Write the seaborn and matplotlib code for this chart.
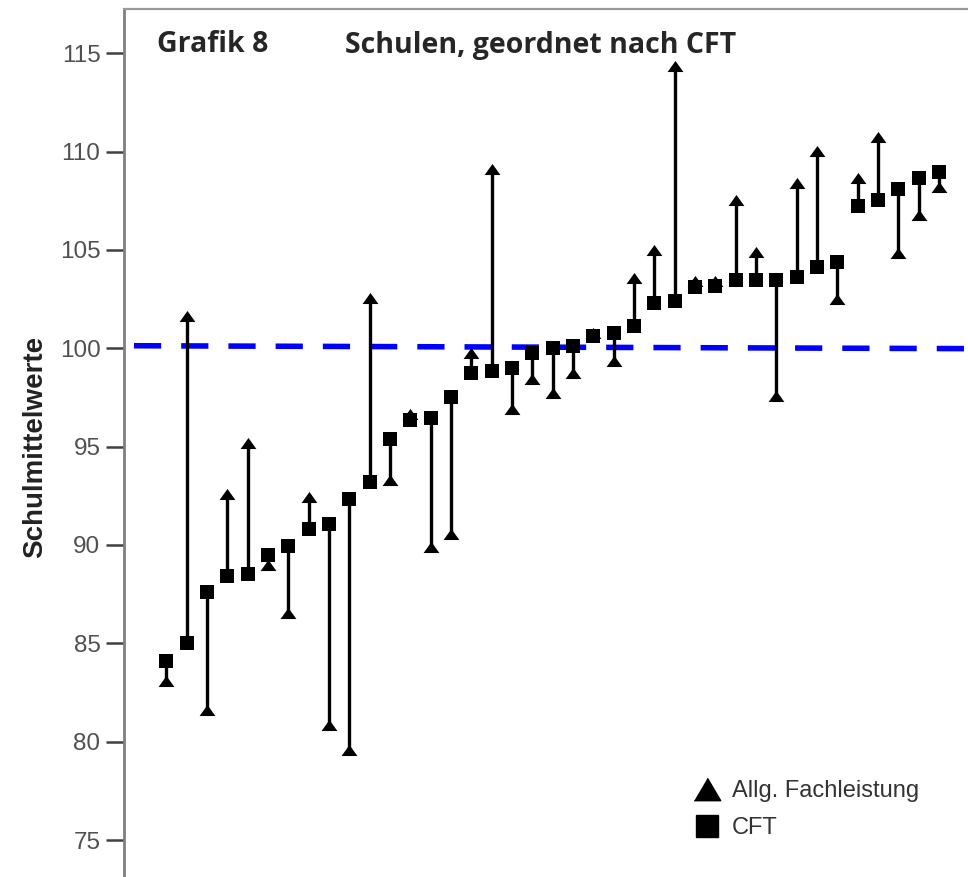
import numpy as np
import pandas as pd
import seaborn as sns
import matplotlib.pyplot as plt
from matplotlib.lines import Line2D

# Schulmittelwerte, Schulen geordnet nach CFT
cft = [84.1, 85.0, 87.6, 88.4, 88.5, 89.5, 89.95, 90.8, 91.05, 92.35,
       93.2, 95.4, 96.35, 96.45, 97.5, 98.75, 98.85, 99.0, 99.75, 100.0,
       100.1, 100.65, 100.8, 101.15, 102.3, 102.4, 103.1, 103.15, 103.45, 103.45,
       103.45, 103.6, 104.15, 104.4, 107.25, 107.55, 108.1, 108.65, 108.95]
allg = [83.1, 101.65, 81.6, 92.6, 95.2, 89.0, 86.55, 92.45, 80.85, 79.6,
        102.55, 93.3, 96.65, 89.9, 90.55, 99.75, 109.1, 96.9, 98.45, 97.75,
        98.75, 100.8, 99.35, 103.55, 105.0, 114.35, 103.4, 103.4, 107.55, 104.9,
        97.55, 108.4, 110.05, 102.5, 108.65, 110.75, 104.85, 106.8, 108.2]
ref_x = [-1.6, 40.0]
ref_y = [100.13, 99.98]
yticks = [75, 80, 85, 90, 95, 100, 105, 110, 115]

df = pd.DataFrame({"schule": np.arange(len(cft)), "cft": cft, "allg": allg})

sns.set_style("white")
plt.rcParams["font.family"] = ["Liberation Sans", "DejaVu Sans"]

fig = plt.figure(figsize=(9.68, 8.77), dpi=100)
ax = fig.add_axes([124 / 968, 0.0, 851 / 968, 868 / 877])

# reference line
ax.plot(ref_x, ref_y, color="#0000FF", lw=4.0, dashes=(4.9, 3.6), zorder=1)

# stems between the two values
ax.vlines(df["schule"], df["cft"], df["allg"], color="black", lw=2.4, zorder=2)

flat_tri = [(-1, -0.7), (1, -0.7), (0, 0.7)]
sns.scatterplot(data=df, x="schule", y="allg", marker=flat_tri, s=130,
                color="black", edgecolor="black", linewidth=0, ax=ax, zorder=3)
sns.scatterplot(data=df, x="schule", y="cft", marker="s", s=96,
                color="black", edgecolor="black", linewidth=0, ax=ax, zorder=3)

ax.set_xlim(-2.09, 39.77)
ax.set_ylim(73.12, 117.25)
ax.set_xticks([])
ax.set_yticks(yticks)
ax.set_xlabel("")
ax.set_ylabel("")
ax.tick_params(axis="y", direction="out", length=13, width=1.8, color="#404040",
               labelsize=17.5, labelcolor="#505050", pad=4, left=True)
for side in ["right", "bottom"]:
    ax.spines[side].set_visible(False)
ax.spines["left"].set_color("#7f7f7f")
ax.spines["left"].set_linewidth(2.0)
ax.spines["top"].set_color("#9a9a9a")
ax.spines["top"].set_linewidth(1.6)

fig.text(35 / 968, 1 - 447 / 877, "Schulmittelwerte", rotation=90, ha="center",
         va="center", fontsize=20, fontweight="bold", color="#222222")

title_font = ["Open Sans", "DejaVu Sans"]
fig.text(157 / 968, 1 - 45 / 877, "Grafik 8", ha="left", va="center",
         fontsize=20.5, fontweight="bold", family=title_font)
fig.text(345 / 968, 1 - 45 / 877, "Schulen, geordnet nach CFT", ha="left",
         va="center", fontsize=20.5, fontweight="bold", family=title_font)

leg_tri = [(-1, -0.85), (1, -0.85), (0, 0.85)]
handles = [Line2D([], [], marker=leg_tri, ls="none", color="black", markersize=19),
           Line2D([], [], marker="s", ls="none", color="black", markersize=16)]
ax.legend(handles, ["Allg. Fachleistung", "CFT"], loc="upper left",
          bbox_to_anchor=(693 / 968, 1 - 780 / 877), bbox_transform=fig.transFigure,
          frameon=False, fontsize=17, handlelength=1.2, handletextpad=0.45,
          labelspacing=0.65, borderpad=0, borderaxespad=0, labelcolor="#333333")

fig.savefig("out.png", dpi=100)
